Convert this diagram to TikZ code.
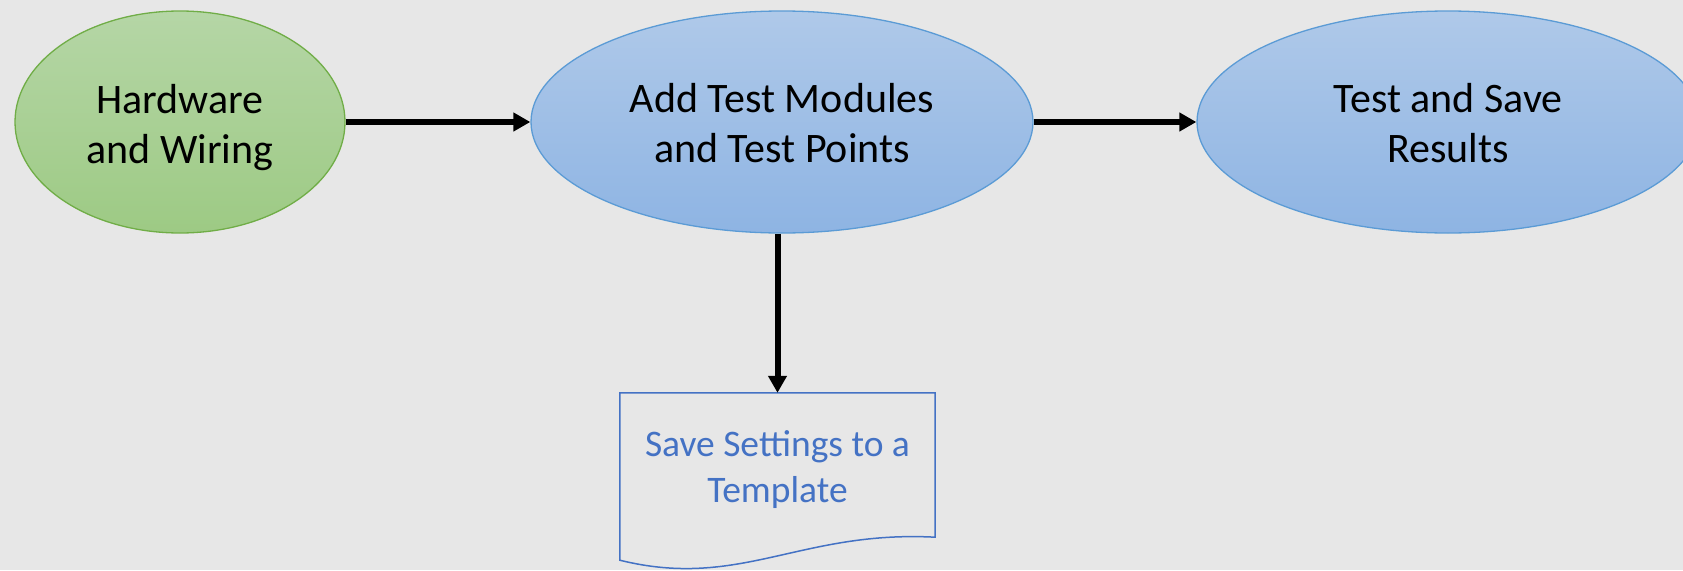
\documentclass[tikz,border=0pt]{standalone}
\usepackage{fontspec}
\setmainfont{Carlito}
\usetikzlibrary{shapes.geometric,arrows.meta}
\definecolor{bg}{HTML}{E7E7E7}
\definecolor{gtop}{HTML}{B5D6A6}
\definecolor{gbot}{HTML}{9DCA84}
\definecolor{gline}{HTML}{70AD47}
\definecolor{btop}{HTML}{AFC9E9}
\definecolor{bbot}{HTML}{8EB4E3}
\definecolor{bline}{HTML}{5B9BD5}
\definecolor{docline}{HTML}{4472C4}
\tikzset{
  greenell/.style={ellipse, draw=gline, line width=1.3pt, top color=gtop, bottom color=gbot, inner sep=0pt, minimum width=330pt, minimum height=222pt},
  blueell/.style={ellipse, draw=bline, line width=1.3pt, top color=btop, bottom color=bbot, inner sep=0pt, minimum width=502pt, minimum height=222pt},
  lbl/.style={align=center, font=\fontsize{42}{50}\selectfont, text=black, inner sep=0pt},
  doclbl/.style={align=center, font=\fontsize{37.5}{46}\selectfont, text=docline, inner sep=0pt},
  docbox/.style={rectangle, inner sep=0pt, minimum width=315pt, minimum height=144pt},
  conn/.style={line width=6pt, -{Triangle[length=17pt,width=18pt]}}
}
\begin{document}
\begin{tikzpicture}[x=1pt,y=-1pt]
\fill[bg] (0,0) rectangle (1683,570);
\useasboundingbox (0,0) rectangle (1683,570);
\begin{scope}
\clip (0,0) rectangle (1683,570);
\node[greenell] (hw) at (180,122) {};
\node[blueell] (mid) at (782,122) {};
\node[blueell] (res) at (1448,122) {};
\end{scope}
\node[lbl] (hwt) at (180,127.5) {Hardware\\and Wiring};
\node[lbl] (midt) at (782,123) {Add Test Modules\\and Test Points};
\node[lbl] (rest) at (1448,123) {Test and Save\\Results};
\node[docbox] (tmpl) at (777.5,465) {};
\node[doclbl] (tmplt) at (777.5,470) {Save Settings to a\\Template};
\draw[docline, line width=1.5pt] (tmpl.south west) -- (tmpl.north west) -- (tmpl.north east) -- (tmpl.south east)
  .. controls (800,530) and (740,590) .. ([yshift=-23pt]tmpl.south west) -- (tmpl.south west);
\draw[conn] (hw.east) -- (mid.west);
\draw[conn] (mid.east) -- (res.west);
\draw[conn] (mid.south -| tmpl.north) -- (tmpl.north);
\end{tikzpicture}
\end{document}
